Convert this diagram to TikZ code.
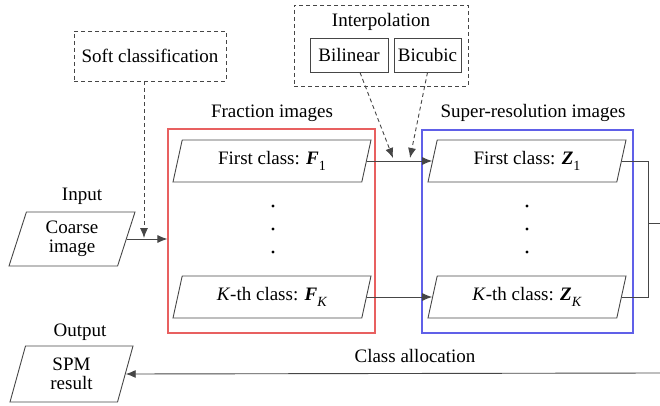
\documentclass[tikz,border=0pt]{standalone}
\usepackage{fontspec}
\setmainfont{Liberation Serif}
\usetikzlibrary{positioning}
\usetikzlibrary{shapes.geometric, arrows.meta}
\definecolor{rojoMarco}{RGB}{232,96,96}
\definecolor{azulMarco}{RGB}{96,96,232}
\definecolor{linea}{RGB}{70,70,70}
\newcommand{\vsub}[1]{\raisebox{-0.3em}{\fontsize{14}{14}\selectfont #1}}

\begin{document}
\begin{tikzpicture}[x=1pt, y=-1pt, line width=0.9pt, font=\fontsize{19}{22}\selectfont,
    data/.style={draw=linea, trapezium, trapezium left angle=64, trapezium right angle=116,
        trapezium stretches body, inner sep=0pt, align=center},
    box/.style={draw=linea, inner sep=0pt, minimum height=34pt},
    dashbox/.style={draw=linea, dash pattern=on 4pt off 3pt, inner sep=0pt},
    framebox/.style={inner sep=0pt, line width=1.2pt},
    dashline/.style={draw=linea, dash pattern=on 4pt off 3pt, -{Latex[length=10pt,width=8pt]}},
    arrow/.style={draw=linea, -{Latex[length=10pt,width=8pt]}}]
        \useasboundingbox (0,0) rectangle (660,406);

        % Clasificacion blanda
        \node[dashbox, minimum width=152pt, minimum height=50pt] (soft) at (150,56) {Soft classification};

        % Interpolacion
        \node[dashbox, minimum width=174pt, minimum height=81pt] (interp) at (381,45.5) {};
        \node (interptxt) at (381,22) {Interpolation};
        \node[box, minimum width=78pt] (bilin) at (349,55) {Bilinear};
        \node[box, minimum width=67pt] (bicub) at (427.5,55) {Bicubic};

        % Entrada y salida
        \node (inputtxt) at (82,196) {Input};
        \node[data, minimum width=126pt, minimum height=54pt] (coarse) at (72,239) {Coarse\\[-3pt]image};
        \node (outputtxt) at (80,332) {Output};
        \node[data, minimum width=123pt, minimum height=56pt] (spm) at (71.5,374) {SPM\\[-3pt]result};

        % Imagenes de fraccion
        \node (fractxt) at (272,113) {Fraction images};
        \node[framebox, draw=rojoMarco, minimum width=207pt, minimum height=204pt] (fracbox) at (271.5,231) {};
        \node[data, minimum width=198pt, minimum height=42pt] (F1) at (272,161) {First class: \textbf{\textit{F}}\vsub{1}};
        \node[data, minimum width=198pt, minimum height=42pt] (FK) at (272,297) {\textit{K}-th class: \textbf{\textit{F}}\vsub{\textit{K}}};

        % Imagenes de superresolucion
        \node (suptxt) at (533,113) {Super-resolution images};
        \node[framebox, draw=azulMarco, minimum width=211pt, minimum height=203pt] (supbox) at (527.5,231.5) {};
        \node[data, minimum width=198pt, minimum height=42pt] (Z1) at (527,161) {First class: \textbf{\textit{Z}}\vsub{1}};
        \node[data, minimum width=198pt, minimum height=42pt] (ZK) at (527,297) {\textit{K}-th class: \textbf{\textit{Z}}\vsub{\textit{K}}};

        % Puntos suspensivos
        \foreach \y in {206,229,252} {
            \fill (273,\y) circle (1.6pt);
            \fill (527,\y) circle (1.6pt);
        }

        % Conexiones
        \coordinate (jsoft) at (144,238);
        \coordinate (jbil) at (393,158);
        \coordinate (jbic) at (410,158);
        \draw[arrow] (coarse.east) -- (coarse.east -| fracbox.west);
        \draw[dashline] (soft.south -| jsoft) -- (jsoft);
        \draw[arrow] (F1.east) -- (Z1.west);
        \draw[arrow] (FK.east) -- (ZK.west);
        \draw[dashline] ([xshift=11pt]bilin.south) -- (jbil);
        \draw[dashline] (bicub.south) -- (jbic);

        % Asignacion de clases
        \coordinate (bus) at (648,223);
        \coordinate (salida) at (660,223);
        \coordinate (retorno) at (660,373);
        \draw[linea] (Z1.east) -- (Z1.east -| bus) -- (ZK.east -| bus) -- (ZK.east);
        \draw[linea] (bus) -- (salida);
        \draw[arrow] (retorno) -- (spm.east);
        \node (alloc) at (415,356) {Class allocation};
    \end{tikzpicture}
\end{document}
